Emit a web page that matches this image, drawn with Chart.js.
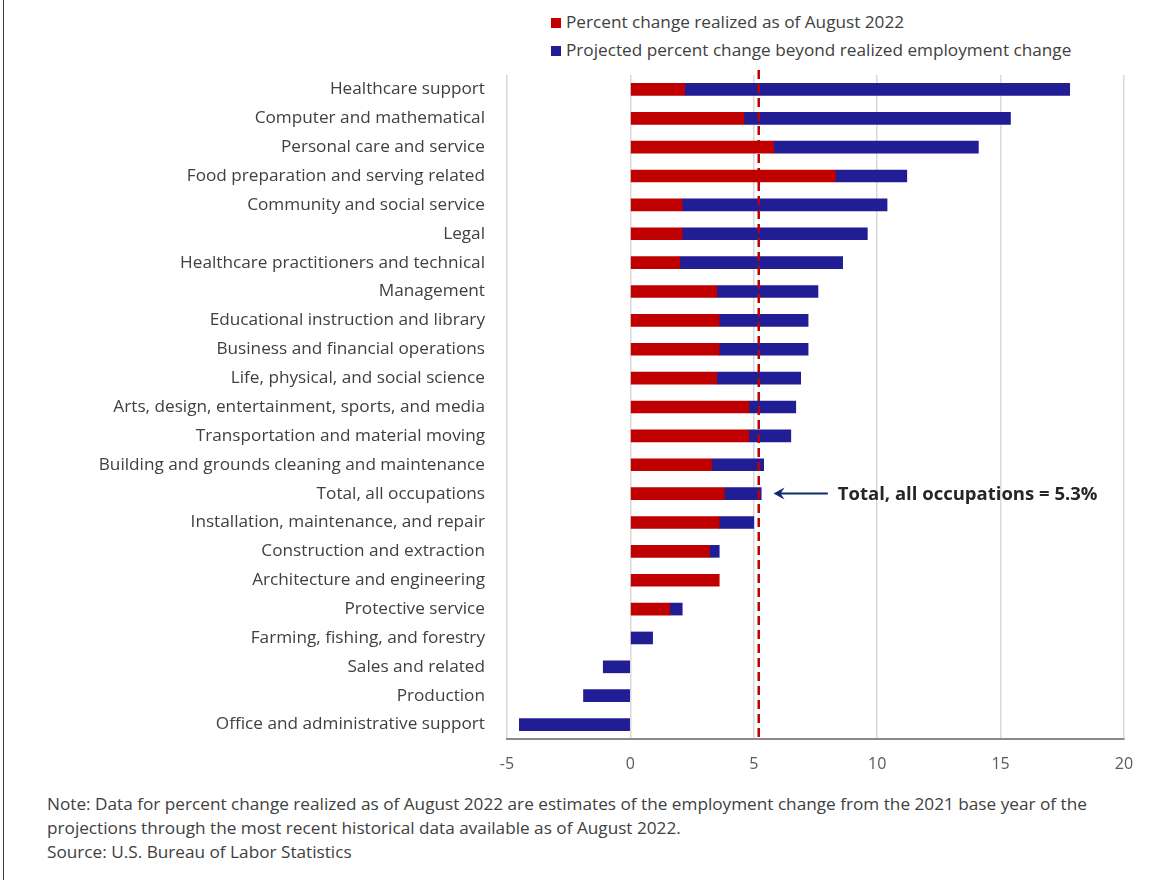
<!DOCTYPE html>
<html>
<head>
<meta charset="utf-8">
<script src="https://cdn.jsdelivr.net/npm/chart.js@4.4.0/dist/chart.umd.min.js"></script>
<style>
	html, body { margin: 0; padding: 0; background: #fff; }
	body { width: 1154px; height: 880px; position: relative; overflow: hidden; font-family: 'Open Sans', sans-serif; color: #404040; }
	#frame { position: absolute; left: 3px; top: 0; width: 1px; height: 880px; background: #3a3a3a; }
	#wrap { position: absolute; left: 0; top: 0; width: 1154px; height: 790px; }
	.legend { position: absolute; left: 551px; font-size: 17.2px; line-height: 20px; white-space: nowrap; }
	.legend span { display: inline-block; width: 10px; height: 10px; margin-right: 5px; vertical-align: 0px; }
	#note { position: absolute; left: 47px; top: 792px; font-size: 17.2px; line-height: 24px; color: #404040; white-space: nowrap; }
</style>
</head>
<body>
<div id="frame"></div>
<div class="legend" style="top: 12px;"><span style="background:#C00000"></span>Percent change realized as of August 2022</div>
<div class="legend" style="top: 40px;"><span style="background:#211D94"></span>Projected percent change beyond realized employment change</div>
<div id="wrap"><canvas id="chart"></canvas></div>
<div id="note">Note: Data for percent change realized as of August 2022 are estimates of the employment change from the 2021 base year of the<br>projections through the most recent historical data available as of August 2022.<br>Source: U.S. Bureau of Labor Statistics</div>
<script>
const occupations = [
	'Healthcare support',
	'Computer and mathematical',
	'Personal care and service',
	'Food preparation and serving related',
	'Community and social service',
	'Legal',
	'Healthcare practitioners and technical',
	'Management',
	'Educational instruction and library',
	'Business and financial operations',
	'Life, physical, and social science',
	'Arts, design, entertainment, sports, and media',
	'Transportation and material moving',
	'Building and grounds cleaning and maintenance',
	'Total, all occupations',
	'Installation, maintenance, and repair',
	'Construction and extraction',
	'Architecture and engineering',
	'Protective service',
	'Farming, fishing, and forestry',
	'Sales and related',
	'Production',
	'Office and administrative support'
];
// null = no realized-change segment shown for that row
const realized = [2.2, 4.6, 5.8, 8.3, 2.1, 2.1, 2.0, 3.5, 3.6, 3.6, 3.5, 4.8, 4.8, 3.3, 3.8, 3.6, 3.2, 3.6, 1.6, null, null, null, null];
const projectedBeyond = [15.6, 10.8, 8.3, 2.9, 8.3, 7.5, 6.6, 4.1, 3.6, 3.6, 3.4, 1.9, 1.7, 2.1, 1.5, 1.4, 0.4, null, 0.5, 0.9, -1.1, -1.9, -4.5];
const xTicks = [-5, 0, 5, 10, 15, 20];
const totalLine = 5.2;
const totalLabel = 'Total, all occupations = 5.3%';

const refLine = {
	id: 'refLine',
	afterDatasetsDraw(chart) {
		const { ctx, chartArea, scales } = chart;
		const x = scales.x.getPixelForValue(totalLine);
		ctx.save();
		ctx.strokeStyle = '#C00000';
		ctx.lineWidth = 2.5;
		ctx.setLineDash([9, 5]);
		ctx.beginPath();
		ctx.moveTo(x, chartArea.top - 5);
		ctx.lineTo(x, chartArea.bottom);
		ctx.stroke();
		ctx.setLineDash([]);

		// arrow + label on the total row
		const y = scales.y.getPixelForValue(occupations.indexOf('Total, all occupations'));
		const x0 = scales.x.getPixelForValue(5.8);
		const x1 = scales.x.getPixelForValue(8);
		ctx.strokeStyle = '#0F2A6E';
		ctx.fillStyle = '#0F2A6E';
		ctx.lineWidth = 2;
		ctx.beginPath();
		ctx.moveTo(x1, y);
		ctx.lineTo(x0 + 6, y);
		ctx.stroke();
		ctx.beginPath();
		ctx.moveTo(x0, y);
		ctx.lineTo(x0 + 11, y - 6);
		ctx.lineTo(x0 + 7, y);
		ctx.lineTo(x0 + 11, y + 6);
		ctx.closePath();
		ctx.fill();
		ctx.fillStyle = '#262626';
		ctx.font = 'bold 18.5px "Open Sans", sans-serif';
		ctx.textAlign = 'left';
		ctx.textBaseline = 'middle';
		ctx.fillText(totalLabel, x1 + 10, y + 1);
		ctx.restore();
	}
};

new Chart(document.getElementById('chart'), {
	type: 'bar',
	data: {
		labels: occupations,
		datasets: [
			{ label: 'Percent change realized as of August 2022', data: realized, backgroundColor: '#C00000', barThickness: 12 },
			{ label: 'Projected percent change beyond realized employment change', data: projectedBeyond, backgroundColor: '#211D94', barThickness: 12 }
		]
	},
	options: {
		indexAxis: 'y',
		responsive: true,
		maintainAspectRatio: false,
		animation: false,
		layout: { padding: { top: 75, right: 30, left: 0, bottom: 0 } },
		plugins: { legend: { display: false }, tooltip: { enabled: false } },
		scales: {
			x: {
				stacked: true,
				min: -5,
				max: 20,
				afterBuildTicks: (scale) => { scale.ticks = xTicks.map(v => ({ value: v })); },
				afterFit: (scale) => { scale.height = 51; },
				grid: { color: '#d9d9d9', lineWidth: 1.5, drawTicks: false },
				border: { display: true, color: '#8a8a8a', width: 2 },
				ticks: { color: '#595959', font: { family: 'Open Sans', size: 16 }, padding: 16 }
			},
			y: {
				stacked: true,
				afterFit: (scale) => { scale.width = 507; },
				grid: { display: false, drawTicks: false },
				border: { display: false },
				ticks: { color: '#404040', font: { family: 'Open Sans', size: 17.2 }, padding: 22, autoSkip: false }
			}
		}
	},
	plugins: [refLine]
});
</script>
</body>
</html>
